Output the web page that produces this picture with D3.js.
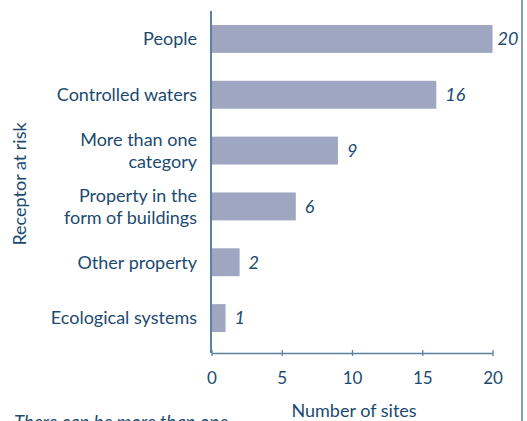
<!DOCTYPE html>
<html>
<head>
<meta charset="utf-8">
<script src="https://cdn.jsdelivr.net/npm/d3@7"></script>
<style>
  html, body { margin: 0; padding: 0; background: #fff; }
  svg { display: block; }
  text { font-family: Lato, "Open Sans", sans-serif; }
</style>
</head>
<body>
<script>
// Receptors at risk and number of sites for each
const categories = [
  ["People"],
  ["Controlled waters"],
  ["More than one", "category"],
  ["Property in the", "form of buildings"],
  ["Other property"],
  ["Ecological systems"]
];
const siteCounts = [20, 16, 9, 6, 2, 1];
const xTicks = [0, 5, 10, 15, 20];

const W = 527, H = 421;
const ink = "#1c4a70";
const barFill = "#9ea6c2";
const axisColor = "#5d7fa0";

const svg = d3.select("body").append("svg")
  .attr("width", W).attr("height", H);

const keys = categories.map(c => c.join(" "));

const x = d3.scaleLinear().domain([0, 20]).range([211.5, 492.5]);
const y = d3.scaleBand().domain(keys).range([11, 346])
  .paddingInner(0.5).paddingOuter(0.25);

// bars
svg.append("g").selectAll("rect")
  .data(siteCounts)
  .join("rect")
  .attr("x", x(0))
  .attr("y", (d, i) => y(keys[i]))
  .attr("width", d => x(d) - x(0))
  .attr("height", y.bandwidth())
  .attr("fill", barFill);

// value labels
svg.append("g").selectAll("text")
  .data(siteCounts)
  .join("text")
  .attr("x", d => x(d) + (d >= 20 ? 5 : 9))
  .attr("y", (d, i) => y(keys[i]) + y.bandwidth() / 2)
  .attr("dy", "0.35em")
  .attr("font-size", 18)
  .attr("font-style", "italic")
  .attr("fill", ink)
  .text(d => d);

// category labels (one or two lines)
const catG = svg.append("g");
categories.forEach((lines, i) => {
  const cy = y(keys[i]) + y.bandwidth() / 2;
  const lh = 22;
  const t = catG.append("text")
    .attr("text-anchor", "end")
    .attr("font-size", 18)
    .attr("fill", ink);
  lines.forEach((ln, j) => {
    t.append("tspan")
      .attr("x", 197)
      .attr("y", cy + (j - (lines.length - 1) / 2) * lh)
      .attr("dy", "0.35em")
      .text(ln);
  });
});

// vertical axis line
svg.append("line")
  .attr("x1", 211).attr("x2", 211)
  .attr("y1", 11).attr("y2", 353)
  .attr("stroke", axisColor).attr("stroke-width", 2);

// horizontal axis
const xAxis = svg.append("g")
  .attr("transform", "translate(0,353)")
  .call(d3.axisBottom(x).tickValues(xTicks).tickSize(4).tickPadding(15).tickSizeOuter(0));
xAxis.select(".domain").attr("stroke", axisColor).attr("stroke-width", 1.3);
xAxis.selectAll(".tick line").attr("stroke", axisColor).attr("stroke-width", 1.3)
  .attr("y1", -3).attr("y2", 3);
xAxis.selectAll(".tick text")
  .attr("font-size", 17).attr("fill", ink)
  .attr("font-family", "Lato, sans-serif");

// axis titles
svg.append("text")
  .attr("x", 354).attr("y", 417)
  .attr("text-anchor", "middle")
  .attr("font-size", 18).attr("fill", ink)
  .text("Number of sites");

svg.append("text")
  .attr("transform", "translate(26,184) rotate(-90)")
  .attr("text-anchor", "middle")
  .attr("font-size", 18).attr("fill", ink)
  .text("Receptor at risk");

// footnote running off the bottom edge
svg.append("text")
  .attr("x", 14).attr("y", 429)
  .attr("font-size", 18.5).attr("font-style", "italic").attr("fill", ink)
  .text("There can be more than one");

// right frame rule
svg.append("line")
  .attr("x1", 522).attr("x2", 522)
  .attr("y1", 0).attr("y2", H)
  .attr("stroke", axisColor).attr("stroke-width", 1.5);
</script>
</body>
</html>
